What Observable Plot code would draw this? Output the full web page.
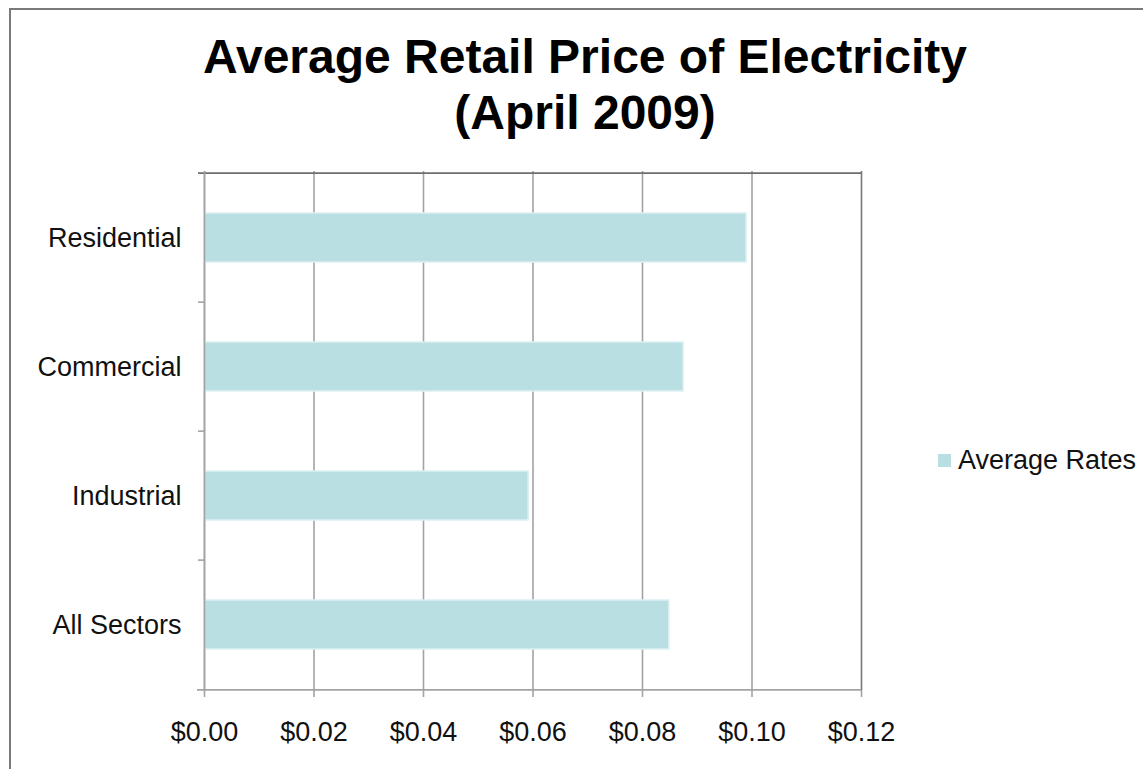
<!DOCTYPE html>
<html>
<head>
<meta charset="utf-8">
<script src="https://cdn.jsdelivr.net/npm/d3@7"></script>
<script src="https://cdn.jsdelivr.net/npm/@observablehq/plot@0.6"></script>
<style>
  html, body { margin: 0; padding: 0; background: #fff; overflow: hidden; }
  #wrap { position: relative; width: 1143px; height: 769px; font-family: "Liberation Sans", Arial, sans-serif; }
  #border { position: absolute; left: 9px; top: 8px; width: 1200px; height: 800px; border: 2px solid #7a7a7a; box-sizing: border-box; }
  #title { position: absolute; left: 185px; width: 800px; top: 29px; text-align: center; font-weight: bold; font-size: 48px; line-height: 56px; color: #000; }
  #legend { position: absolute; left: 938px; top: 443px; height: 34px; display: flex; align-items: center; font-size: 27px; color: #111; }
  #legend .sw { width: 13px; height: 13px; background: #badfe3; margin-right: 7px; }
  #chart { position: absolute; left: 0; top: 0; }
</style>
</head>
<body>
<div id="wrap">
  <div id="border"></div>
  <div id="chart"></div>
  <div id="title">Average Retail Price of Electricity<br>(April 2009)</div>
  <div id="legend"><div class="sw"></div><span>Average Rates</span></div>
</div>
<script>
const categories = ["Residential", "Commercial", "Industrial", "All Sectors"];
const averageRates = [0.0990, 0.0875, 0.0592, 0.0849];
const xTicks = [0, 0.02, 0.04, 0.06, 0.08, 0.10, 0.12];
const seriesName = "Average Rates";

const data = categories.map((c, i) => ({sector: c, rate: averageRates[i]}));

const W = 1143, H = 769;
const mL = 204, mT = 171, mR = 1143 - 861, mB = 769 - 690;
const step = (H - mT - mB) / categories.length;
const xMax = xTicks[xTicks.length - 1];
const grid = "#a3a3a3";

const chart = Plot.plot({
  width: W,
  height: H,
  marginLeft: mL,
  marginTop: mT,
  marginRight: mR,
  marginBottom: mB,
  style: {fontFamily: "Liberation Sans, Arial, sans-serif", fontSize: "27px", color: "#111", background: "transparent"},
  x: {domain: [0, xMax], ticks: xTicks},
  y: {domain: categories, padding: 0},
  marks: [
    Plot.gridX(xTicks.slice(0, -1), {stroke: grid, strokeWidth: 1.6, strokeOpacity: 1}),
    Plot.barX(data, {y: "sector", x: "rate", fill: "#badfe3", stroke: "#dcf0f2", strokeWidth: 1.5, insetTop: 40, insetBottom: 40}),
    // right edge of the plot area (darker)
    Plot.ruleX([xMax], {stroke: "#777", strokeWidth: 1.6}),
    // y tick marks at category boundaries
    Plot.ruleY(categories.slice(1), {y: d => d, dy: -step / 2, x1: 0, x2: 0, insetLeft: -6, stroke: grid, strokeWidth: 1.6}),
    // top edge of the plot area (darker)
    Plot.ruleY(categories.slice(0, 1), {y: d => d, dy: -step / 2, x1: 0, x2: xMax, insetLeft: -6, stroke: "#6e6e6e", strokeWidth: 1.6}),
    // bottom axis line
    Plot.ruleY(categories.slice(-1), {y: d => d, dy: step / 2, x1: 0, x2: xMax, insetLeft: -7, stroke: grid, strokeWidth: 1.6}),
    // left axis line
    Plot.ruleX([0], {stroke: grid, strokeWidth: 1.6}),
    Plot.axisY({tickSize: 0, tickPadding: 23, label: null, fontSize: 27}),
    Plot.axisX(xTicks, {tickSize: 7, tickPadding: 24, stroke: grid, strokeWidth: 1.6, tickFormat: d => "$" + d.toFixed(2), label: null, fontSize: 27})
  ]
});
document.getElementById("chart").appendChild(chart);
</script>
</body>
</html>
